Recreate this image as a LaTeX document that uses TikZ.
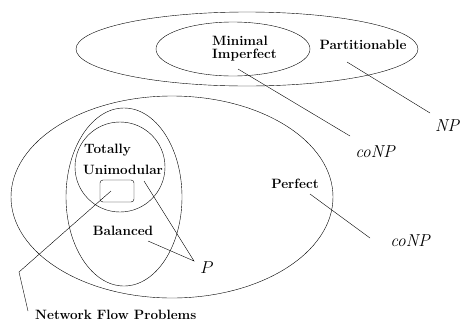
\documentclass[tikz,border=0pt]{standalone}
\usetikzlibrary{positioning}
\begin{document}
\begin{tikzpicture}[x=1pt,y=-1pt,
  lbl/.style={font=\bfseries\fontsize{13.5}{13}\selectfont, align=left, inner sep=1pt},
  cls/.style={font=\fontsize{18}{20}\selectfont, inner sep=1pt}]
\useasboundingbox (0,0) rectangle (462,322);

% Верхний уровень - Partitionable
\draw (247,49) ellipse [x radius=171, y radius=37];
\draw (233,49) ellipse [x radius=77, y radius=27];
\node (minimal) [lbl, anchor=west] at (211,49) {Minimal\\Imperfect};
\node (partition) [lbl] at (363,45) {Partitionable};
\node (conpA) [cls] at (376,152) {$\mathit{coNP}$};
\node (np) [cls] at (448,126) {$\mathit{NP}$};

% Нижний уровень - Perfect
\draw (172,197) ellipse [x radius=161, y radius=101];
\draw (124,197) ellipse [x radius=58, y radius=89];
\draw (120,167) ellipse [x radius=45, y radius=45];
\node (network) [draw, rounded corners=3pt, minimum width=34pt, minimum height=22pt] at (117,191) {};
\node (totally) [lbl, anchor=west] at (83,150) {Totally};
\node (unimod) [lbl, anchor=west] at (82,170) {Unimodular};
\node (balanced) [lbl] at (123,231) {Balanced};
\node (perfect) [lbl] at (295,184) {Perfect};
\node (p) [cls] at (207,268) {$P$};
\node (conpB) [cls] at (411,241) {$\mathit{coNP}$};
\node (nfp) [lbl, anchor=west] at (34,315) {Network Flow Problems};

% Связи
\coordinate (miA) at (238,69);
\coordinate (miB) at (350,136);
\coordinate (ptA) at (347,62);
\coordinate (ptB) at (430,113);
\coordinate (tuA) at (144,181);
\coordinate (blA) at (148,241);
\coordinate (pA) at (194,261);
\coordinate (pfA) at (310,194);
\coordinate (pfB) at (370,238);
\coordinate (nfA) at (111,191);
\coordinate (nfB) at (19,272);
\coordinate (nfC) at (28,311);

\draw (miA) -- (miB);
\draw (ptA) -- (ptB);
\draw (tuA) -- (pA) -- (blA);
\draw (pfA) -- (pfB);
\draw (nfA) -- (nfB) -- (nfC);

\end{tikzpicture}
\end{document}
